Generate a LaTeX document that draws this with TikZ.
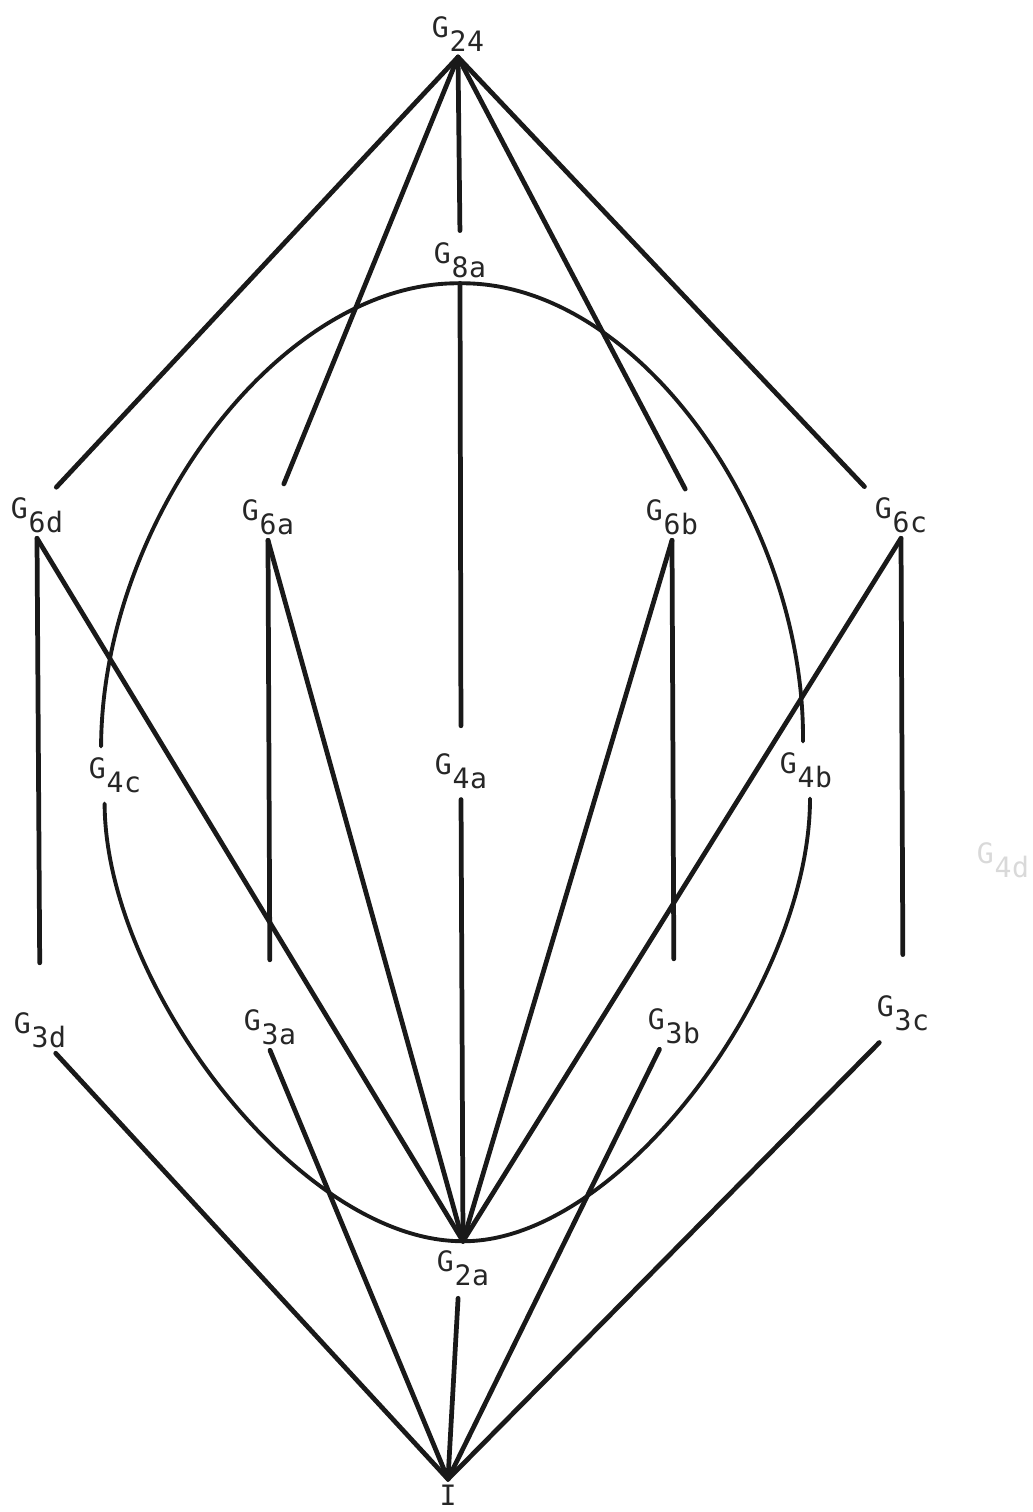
\documentclass[tikz,border=0pt]{standalone}
\usepackage{fontspec}
\usepackage{tikz}
\usetikzlibrary{positioning}
\newfontfamily\typefont[LetterSpace=2]{DejaVu Sans Mono}
\newcommand\grp[1]{G\kern0.5pt\raisebox{-8pt}{#1}}

\begin{document}
\begin{tikzpicture}[
  x=0.02cm, y=-0.02cm,
  lbl/.style={font=\typefont\fontsize{16pt}{18pt}\selectfont, text=black!85, inner sep=3pt},
  gap/.style={lbl, inner ysep=6pt},
  hub/.style={lbl, inner ysep=5pt},
  ln/.style={line width=2.7pt, black!90, line cap=round},
  oval/.style={line width=2.2pt, black!90, line cap=round},
  drop/.style={ln, shorten >=25pt}
]
\useasboundingbox (0,0) rectangle (1033,1512);

\node[lbl] (g24) at (458,34) {\grp{24}};
\node[lbl] (g8a) at (460,260) {\grp{8a}};
\node[lbl] (g6d) at (37,515) {\grp{6d}};
\node[lbl] (g6a) at (268,517) {\grp{6a}};
\node[lbl] (g6b) at (672,517) {\grp{6b}};
\node[lbl] (g6c) at (901,515) {\grp{6c}};
\node[gap] (g4c) at (115,775) {\grp{4c}};
\node[lbl] (g4a) at (461,771) {\grp{4a}};
\node[gap] (g4b) at (806,770) {\grp{4b}};
\node[lbl, text=black!15] (g4d) at (1003,860) {\grp{4d}};
\node[lbl] (g3d) at (40,1030) {\grp{3d}};
\node[lbl] (g3a) at (270,1027) {\grp{3a}};
\node[lbl] (g3b) at (674,1026) {\grp{3b}};
\node[lbl] (g3c) at (903,1013) {\grp{3c}};
\node[hub] (g2a) at (463,1268) {\grp{2a}};
\node[lbl] (i) at (448,1495) {I};

\draw[ln, shorten >=3.5pt] (g24.south) -- (g6d.57);
\draw[ln, shorten >=6pt] (g24.south) -- (g6a.63);
\draw[ln, shorten >=3.5pt] (g24.south) -- (g8a.north);
\draw[ln, shorten >=3pt] (g24.south) -- (g6b.56);
\draw[ln, shorten >=4pt] (g24.south) -- (g6c.north west);

\draw[oval] (g8a.south) .. controls (281,281) and (102,520) .. (g4c.116);
\draw[oval] (g4c.-110) .. controls (105,985) and (300,1242) .. (g2a.north);
\draw[oval] (g2a.north) .. controls (620,1242) and (810,985) .. (g4b.-82);
\draw[oval] (g4b.96) .. controls (805,520) and (638,281) .. (g8a.south);

\draw[ln, shorten >=12.5pt] (g8a.south) -- (g4a.north);
\draw[ln, shorten <=3pt] (g4a.south) -- (g2a.north);

\draw[drop] (g6d.south) -- (g3d.north);
\draw[drop] (g6a.south) -- (g3a.north);
\draw[drop] (g6b.south) -- (g3b.north);
\draw[ln, shorten >=20pt] (g6c.south) -- (g3c.north);

\draw[ln] (g6d.south) -- (g2a.north);
\draw[ln] (g6a.south) -- (g2a.north);
\draw[ln] (g6b.south) -- (g2a.north);
\draw[ln] (g6c.south) -- (g2a.north);

\draw[ln] (g3d.-56) -- (i.north);
\draw[ln] (g3a.south) -- (i.north);
\draw[ln, shorten <=2pt] (g2a.-100) -- (i.north);
\draw[ln] (g3b.-122) -- (i.north);
\draw[ln, shorten <=5pt] (g3c.-127) -- (i.north);
\end{tikzpicture}
\end{document}
